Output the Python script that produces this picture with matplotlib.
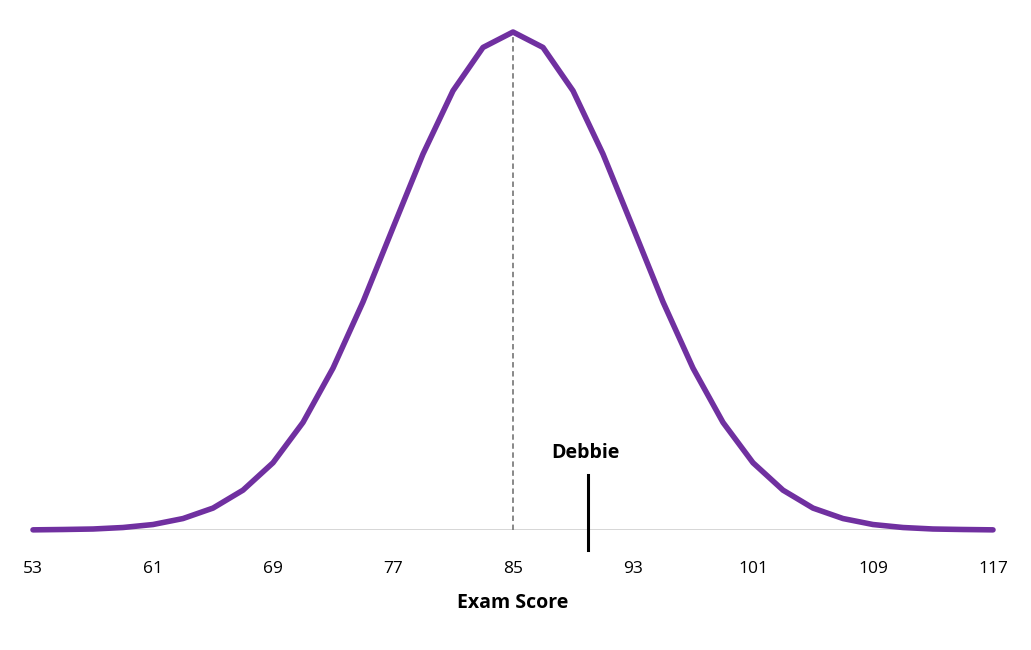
import matplotlib
matplotlib.use('Agg')
import matplotlib.pyplot as plt

plt.rcParams['font.family'] = ['Open Sans', 'DejaVu Sans']

# exam scores (step 2) and relative curve height (peak = 1)
scores = list(range(53, 118, 2))
half = [0.0003, 0.001, 0.002, 0.005, 0.011, 0.023, 0.044, 0.080, 0.135,
        0.216, 0.325, 0.458, 0.607, 0.755, 0.882, 0.969]
heights = half + [1.0] + half[::-1]
ticks = list(range(53, 118, 8))
mean_score = 85
debbie_score = 90

fig = plt.figure(figsize=(10.31, 6.5), dpi=100)
ax = fig.add_axes([33 / 1031, 1 - 530 / 650, 960 / 1031, 498 / 650])

ax.axhline(0, color='#d0d0d0', lw=1.2, zorder=1)
ax.plot(scores, heights, color='#7030a0', lw=4, solid_capstyle='round', zorder=3, clip_on=False)
ax.plot([mean_score, mean_score], [0, 1], color='#7f7f7f', lw=1.3, ls=(0, (3, 2)), zorder=2)
ax.plot([debbie_score, debbie_score], [0.11, -0.04], color='black', lw=2.2, clip_on=False)
ax.text(debbie_score - 0.2, 0.155, 'Debbie', ha='center', va='center', fontsize=14, fontweight='bold')

ax.set_xlim(53, 117)
ax.set_ylim(0, 1)
ax.set_xticks(ticks)
ax.tick_params(axis='x', length=0, pad=22, labelsize=12.5)
ax.set_yticks([])
for s in ax.spines.values():
    s.set_visible(False)
ax.set_xlabel('Exam Score', fontsize=14, fontweight='bold', labelpad=12)

fig.savefig('out.png', dpi=100)
